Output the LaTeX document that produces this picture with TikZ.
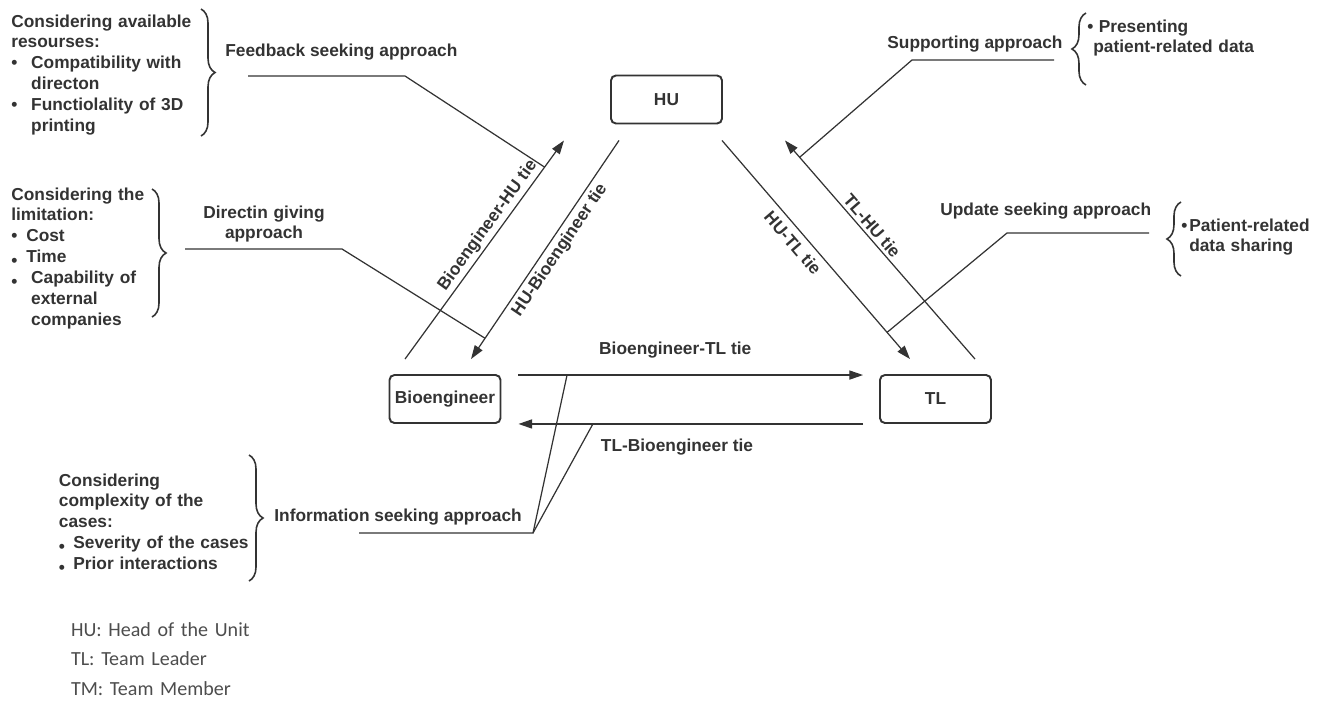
\documentclass[tikz,border=0pt]{standalone}
\usepackage{fontspec}
\setmainfont{Liberation Sans}
\newfontfamily\legendfont{Carlito}
\usetikzlibrary{arrows.meta, decorations.pathreplacing}

\definecolor{ink}{HTML}{333333}
\definecolor{keygray}{HTML}{4D4D4D}
\newcommand{\bul}[1]{\makebox[#1][l]{\textbullet}}
\newcommand{\lowbul}[1]{\makebox[#1][l]{\raisebox{-2pt}{\textbullet}}}

\begin{document}
\begin{tikzpicture}[x=0.02cm, y=-0.02cm,
    % Styles
    actor/.style={draw=ink, line width=1.1pt, rounded corners=2.8pt, minimum width=2.22cm, minimum height=0.96cm, inner sep=1pt, text=ink, font=\bfseries\fontsize{9.86}{11.9}\selectfont},
    tie/.style={-{Triangle[length=7.8pt, width=5.2pt]}, draw=ink, line width=0.7pt},
    callout/.style={draw=ink, line width=0.7pt},
    tielabel/.style={text=ink, font=\bfseries\fontsize{9.86}{11.9}\selectfont, sloped, inner sep=1.6pt},
    flatlabel/.style={text=ink, font=\bfseries\fontsize{9.86}{11.9}\selectfont, inner sep=2pt},
    approach/.style={text=ink, font=\bfseries\fontsize{9.86}{11.9}\selectfont, inner sep=0pt},
    block/.style={approach, align=left, anchor=base west},
    bracket/.style={draw=ink, line width=0.9pt, decorate, decoration={brace, amplitude=8pt}},
    key/.style={text=keygray, font=\legendfont\fontsize{11.4}{17}\selectfont, inner sep=0pt, align=left, anchor=base west},
]
\useasboundingbox (0,0) rectangle (1329,704);

% Actors
\node[actor] (hu) at (666.5,99.5) {HU};
\node[actor] (bio) at (445,399) {Bioengineer};
\node[actor] (tl) at (935.5,399) {TL};

% Ties between the actors
\draw[tie] ([shift={(-40,-15)}]bio.north) -- ([shift={(-102.5,16)}]hu.south)
    node[tielabel, above, pos=0.58] (lbl-biohu) {Bioengineer-HU tie}
    coordinate[pos=0.878] (at-feedback);
\draw[tie] ([shift={(-47.5,16)}]hu.south) -- ([shift={(26,-15)}]bio.north)
    node[tielabel, below, pos=0.47, inner sep=2.2pt] (lbl-hubio) {HU-Bioengineer tie}
    coordinate[pos=0.905] (at-direction);
\draw[tie] ([shift={(55.5,16)}]hu.south) -- ([shift={(-25.5,-15)}]tl.north)
    node[tielabel, below, pos=0.43, inner sep=3.5pt] (lbl-hutl) {HU-TL tie}
    coordinate[pos=0.878] (at-update);
\draw[tie] ([shift={(39.5,-15)}]tl.north) -- ([shift={(118.5,16)}]hu.south)
    node[tielabel, above, pos=0.58] (lbl-tlhu) {TL-HU tie}
    coordinate[pos=0.923] (at-support);
\draw[tie] ([shift={(17,1)}]bio.north east) -- ([shift={(-16,1)}]tl.north west)
    node[flatlabel, above=7pt, pos=0.455] (lbl-biotl) {Bioengineer-TL tie}
    coordinate[pos=0.141] (at-info1);
\draw[tie] ([shift={(-16,0)}]tl.south west) -- ([shift={(17,0)}]bio.south east)
    node[flatlabel, below=6pt, pos=0.54] (lbl-tlbio) {TL-Bioengineer tie}
    coordinate[pos=0.784] (at-info2);

% Approaches
\node[approach, anchor=base west] (feedback) at (225,56) {Feedback seeking approach};
\coordinate (feedback-a) at (248,76);
\coordinate (feedback-b) at (405,76);
\draw[callout] (feedback-a) -- (feedback-b) -- (at-feedback);

\node[approach, align=center, text width=2.8cm, anchor=base] (direction) at (264,218) {Directin giving\\approach};
\coordinate (direction-a) at (185,249);
\coordinate (direction-b) at (342,249);
\draw[callout] (direction-a) -- (direction-b) -- (at-direction);

\node[approach, anchor=base west] (support) at (887,48) {Supporting approach};
\coordinate (support-a) at (1054,60);
\coordinate (support-b) at (912,60);
\draw[callout] (support-a) -- (support-b) -- (at-support);

\node[approach, anchor=base west] (update) at (940,215) {Update seeking approach};
\coordinate (update-a) at (1149,233);
\coordinate (update-b) at (1007,233);
\draw[callout] (update-a) -- (update-b) -- (at-update);

\node[approach, anchor=base west] (info) at (274,521) {Information seeking approach};
\coordinate (info-a) at (359,533);
\coordinate (info-b) at (533,533);
\draw[callout] (info-a) -- (info-b) -- (at-info1);
\draw[callout] (info-b) -- (at-info2);

% Conditions
\node[block, text width=4.2cm] (resources) at (11,27) {Considering available\\resourses:\\\bul{11.3pt}Compatibility with\\\hspace*{11.3pt}directon\\\bul{11.3pt}Functiolality of 3D\\\hspace*{11.3pt}printing};
\draw[bracket] (201,9) -- (201,136);

\node[block, text width=3.2cm] (limitation) at (11,200) {Considering the\\limitation:\\\bul{8.5pt}Cost\\\lowbul{8.5pt}Time\\\lowbul{11.3pt}Capability of\\\hspace*{11.3pt}external\\\hspace*{11.3pt}companies};
\draw[bracket] (152,189) -- (152,317);

\node[block, text width=4.2cm] (complexity) at (58.6,486) {Considering\\complexity of the\\cases:\\\lowbul{8.2pt}Severity of the cases\\\lowbul{8.2pt}Prior interactions};
\draw[bracket] (249,455) -- (249,581);

\node[block, text width=3.6cm] (presenting) at (1087,32) {\bul{6.5pt}Presenting\\\hspace*{3.4pt}patient-related data};
\draw[bracket] (1086,85) -- (1086,13);

\node[block, text width=2.9cm] (sharing) at (1181,231) {\bul{4.5pt}Patient-related\\\hspace*{4.5pt}data sharing};
\draw[bracket] (1181,276) -- (1181,202);

% Key
\node[key, text width=4cm] (legend) at (70.7,636) {HU: Head of the Unit\\TL: Team Leader\\TM: Team Member};

\end{tikzpicture}
\end{document}
